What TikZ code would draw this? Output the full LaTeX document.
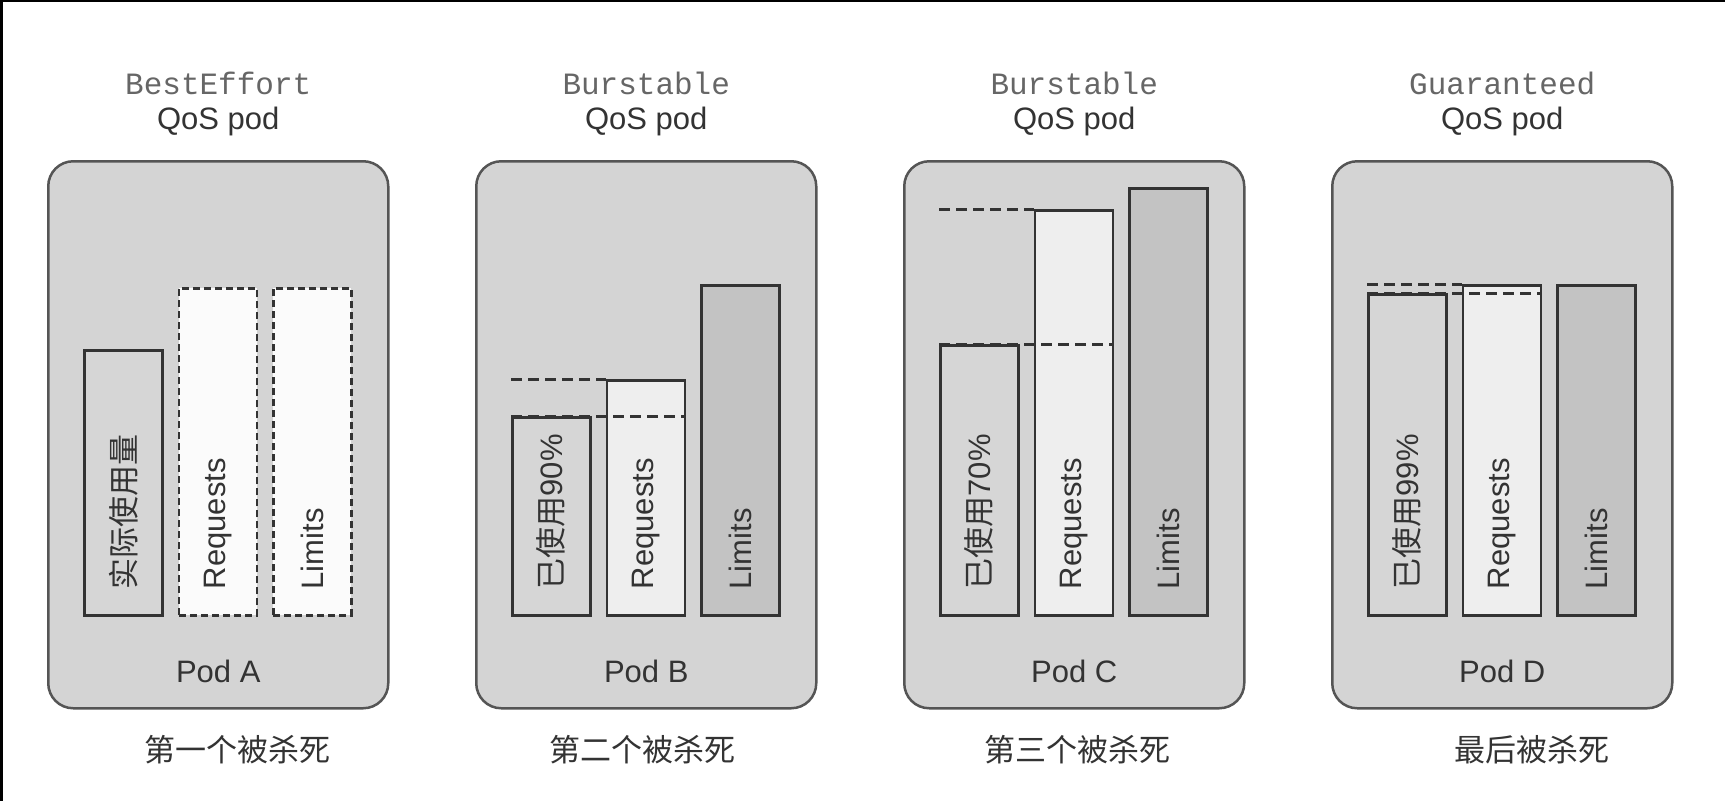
\documentclass[tikz,border=0pt]{standalone}
\usepackage{xcolor}
\usepackage{fontspec}
\setmainfont{Liberation Sans}
\setmonofont{Liberation Mono}
\newfontfamily\cjk{Noto Sans CJK SC}
\usepackage{tikz}
\usetikzlibrary{positioning,calc}
\definecolor{podFill}{HTML}{D4D4D4}
\definecolor{podEdge}{HTML}{555555}
\definecolor{barEdge}{HTML}{333333}
\definecolor{usageFill}{HTML}{D6D6D6}
\definecolor{requestFill}{HTML}{EEEEEE}
\definecolor{limitFill}{HTML}{C3C3C3}
\definecolor{textGray}{HTML}{333333}
\definecolor{nameGray}{HTML}{666666}
\tikzset{
  podBox/.style={
    rectangle,
    rounded corners=25pt,
    draw=podEdge,
    line width=2.5pt,
    fill=podFill,
    minimum width=340pt,
    minimum height=547pt
  },
  barBox/.style={
    rectangle,
    draw=barEdge,
    line width=2.5pt,
    minimum width=78pt,
    inner sep=0pt
  },
  usageBar/.style={barBox, fill=usageFill},
  requestBar/.style={barBox, fill=requestFill},
  limitBar/.style={barBox, fill=limitFill},
  emptyBar/.style={barBox, fill=white!97!gray, dashed, dash pattern=on 7pt off 4pt},
  dashLine/.style={
    draw=barEdge,
    line width=3pt,
    dash pattern=on 11pt off 6pt
  },
  barLabel/.style={
    rotate=90,
    anchor=west,
    inner sep=0pt,
    text=textGray,
    font=\fontsize{31}{36}\selectfont
  },
  plainText/.style={
    inner sep=0pt,
    text=textGray,
    font=\fontsize{31}{36}\selectfont
  },
  qosName/.style={
    inner sep=0pt,
    text=nameGray,
    font=\fontsize{31}{36}\selectfont\ttfamily
  }
}

\begin{document}
\begin{tikzpicture}[x=1pt, y=-1pt]
        \useasboundingbox (0,0) rectangle (1725,801);
        \fill[black] (0,0) rectangle (3,801);
        \fill[black] (0,0) rectangle (1725,1.5);

        % pods
        \node[podBox, anchor=north west] (podA) at (47,160) {};
        \node[podBox, right=85.5pt of podA] (podB) {};
        \node[podBox, right=85.5pt of podB] (podC) {};
        \node[podBox, right=85.5pt of podC] (podD) {};

        % titles
        \node[plainText] (qosA) at ([yshift=39pt]podA.north) {QoS pod};
        \node[plainText] (qosB) at ([yshift=39pt]podB.north) {QoS pod};
        \node[plainText] (qosC) at ([yshift=39pt]podC.north) {QoS pod};
        \node[plainText] (qosD) at ([yshift=39pt]podD.north) {QoS pod};
        \node[qosName] (nameA) at ([yshift=38pt]qosA.center) {BestEffort};
        \node[qosName] (nameB) at ([yshift=38pt]qosB.center) {Burstable};
        \node[qosName] (nameC) at ([yshift=38pt]qosC.center) {Burstable};
        \node[qosName] (nameD) at ([yshift=38pt]qosD.center) {Guaranteed};

        % Pod A
        \node[usageBar, minimum height=265pt, anchor=south west] (usageA) at ([xshift=36pt,yshift=93pt]podA.south west) {};
        \node[emptyBar, minimum height=327pt, right=14pt of usageA.south east, anchor=south west] (requestA) {};
        \node[emptyBar, minimum height=327pt, right=14pt of requestA.south east, anchor=south west] (limitA) {};

        % Pod B
        \node[usageBar, minimum height=198pt, anchor=south west] (usageB) at ([xshift=36pt,yshift=93pt]podB.south west) {};
        \node[requestBar, minimum height=235pt, right=14pt of usageB.south east, anchor=south west] (requestB) {};
        \node[limitBar, minimum height=330pt, right=14pt of requestB.south east, anchor=south west] (limitB) {};
        \draw[dashLine] (usageB.north west |- requestB.north) -- (requestB.north west);
        \draw[dashLine] (usageB.north west) -- (usageB.north west -| requestB.east);

        % Pod C
        \node[usageBar, minimum height=270pt, anchor=south west] (usageC) at ([xshift=36pt,yshift=93pt]podC.south west) {};
        \node[requestBar, minimum height=405pt, right=14pt of usageC.south east, anchor=south west] (requestC) {};
        \node[limitBar, minimum height=427pt, right=14pt of requestC.south east, anchor=south west] (limitC) {};
        \draw[dashLine] (usageC.north west |- requestC.north) -- (requestC.north west);
        \draw[dashLine] (usageC.north west) -- (usageC.north west -| requestC.east);

        % Pod D
        \node[usageBar, minimum height=321pt, anchor=south west] (usageD) at ([xshift=36pt,yshift=93pt]podD.south west) {};
        \node[requestBar, minimum height=330pt, right=14pt of usageD.south east, anchor=south west] (requestD) {};
        \node[limitBar, minimum height=330pt, right=14pt of requestD.south east, anchor=south west] (limitD) {};
        \draw[dashLine] (usageD.north west |- requestD.north) -- (requestD.north west);
        \draw[dashLine] (usageD.north west) -- (usageD.north west -| requestD.east);

        % bar texts
        \node[barLabel] at ([yshift=27pt]usageA.south) {{\cjk 实际使用量}};
        \node[barLabel] at ([yshift=27pt]requestA.south) {Requests};
        \node[barLabel] at ([yshift=27pt]limitA.south) {Limits};
        \node[barLabel] at ([yshift=27pt]usageB.south) {{\cjk 已使用}90\%};
        \node[barLabel] at ([yshift=27pt]requestB.south) {Requests};
        \node[barLabel] at ([yshift=27pt]limitB.south) {Limits};
        \node[barLabel] at ([yshift=27pt]usageC.south) {{\cjk 已使用}70\%};
        \node[barLabel] at ([yshift=27pt]requestC.south) {Requests};
        \node[barLabel] at ([yshift=27pt]limitC.south) {Limits};
        \node[barLabel] at ([yshift=27pt]usageD.south) {{\cjk 已使用}99\%};
        \node[barLabel] at ([yshift=27pt]requestD.south) {Requests};
        \node[barLabel] at ([yshift=27pt]limitD.south) {Limits};

        % pod names
        \node[plainText] (labelA) at ([yshift=38pt]podA.south) {Pod A};
        \node[plainText] (labelB) at ([yshift=38pt]podB.south) {Pod B};
        \node[plainText] (labelC) at ([yshift=38pt]podC.south) {Pod C};
        \node[plainText] (labelD) at ([yshift=38pt]podD.south) {Pod D};

        % kill order
        \node[plainText, font=\fontsize{31}{36}\selectfont\cjk] (orderA) at ([xshift=19pt,yshift=-40pt]podA.south) {第一个被杀死};
        \node[plainText, font=\fontsize{31}{36}\selectfont\cjk] (orderB) at ([xshift=-4pt,yshift=-40pt]podB.south) {第二个被杀死};
        \node[plainText, font=\fontsize{31}{36}\selectfont\cjk] (orderC) at ([xshift=3pt,yshift=-40pt]podC.south) {第三个被杀死};
        \node[plainText, font=\fontsize{31}{36}\selectfont\cjk] (orderD) at ([xshift=30pt,yshift=-40pt]podD.south) {最后被杀死};
    \end{tikzpicture}
\end{document}
